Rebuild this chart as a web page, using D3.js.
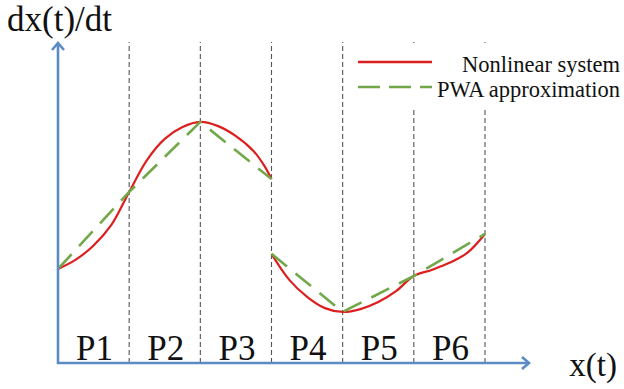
<!DOCTYPE html>
<html>
<head>
<meta charset="utf-8">
<script src="https://cdn.jsdelivr.net/npm/d3@7"></script>
<style>
  body { margin: 0; background: #fff; }
</style>
</head>
<body>
<script>
// data (x in partition units, y in arbitrary units)
var nonlinearX1 = [0, 0.25, 0.5, 0.75, 1, 1.25, 1.5, 1.75, 2, 2.25, 2.5, 2.75, 2.9, 3];
var nonlinearY1 = [2.93, 3.22, 3.66, 4.30, 5.33, 6.32, 6.98, 7.35, 7.51, 7.38, 7.07, 6.60, 6.14, 5.73];
var nonlinearX2 = [3, 3.25, 3.5, 3.75, 4, 4.25, 4.5, 4.75, 5, 5.25, 5.5, 5.75, 6];
var nonlinearY2 = [3.40, 2.59, 2.06, 1.71, 1.59, 1.68, 1.90, 2.24, 2.71, 2.90, 3.12, 3.43, 4.02];
var pwaX1 = [0, 1, 2, 3];
var pwaY1 = [2.93, 5.33, 7.51, 5.73];
var pwaX2 = [3, 4, 5, 6];
var pwaY2 = [3.40, 1.59, 2.71, 4.02];
var boundaries = [1, 2, 3, 4, 5, 6];
var regionLabels = ["P1", "P2", "P3", "P4", "P5", "P6"];
var legendLabels = ["Nonlinear system", "PWA approximation"];

var width = 624;
var height = 389;
var serif = "'Liberation Serif', 'Times New Roman', Times, serif";
var svg = d3.select("body").append("svg")
	.attr("width", width)
	.attr("height", height)
	.attr("font-family", serif);

var x = d3.scaleLinear().domain([0, 6]).range([58, 485]);
var y = d3.scaleLinear().domain([0, 10]).range([363, 42]);

var axisColor = "#5b8bc4";
var red = "#dc1f1f";
var green = "#72a84a";

// partition lines
svg.selectAll(".part").data(boundaries).enter().append("line")
	.attr("x1", d => x(d)).attr("x2", d => x(d))
	.attr("y1", y(0)).attr("y2", y(10))
	.attr("stroke", "#555")
	.attr("stroke-width", 1.1)
	.attr("stroke-dasharray", "5,3");

// region labels
svg.selectAll(".plab").data(regionLabels).enter().append("text")
	.attr("x", (d, i) => x(i + 0.5) + 1)
	.attr("y", 360)
	.attr("text-anchor", "middle")
	.attr("font-family", serif)
	.attr("font-size", 35)
	.attr("fill", "#111")
	.text(d => d);

var line = d3.line()
	.x(d => x(d[0]))
	.y(d => y(d[1]));
var smooth = d3.line()
	.x(d => x(d[0]))
	.y(d => y(d[1]))
	.curve(d3.curveCatmullRom.alpha(0.5));

[[nonlinearX1, nonlinearY1], [nonlinearX2, nonlinearY2]].forEach(function(s) {
	svg.append("path")
		.datum(s[0].map((v, i) => [v, s[1][i]]))
		.attr("d", smooth)
		.attr("fill", "none")
		.attr("stroke", red)
		.attr("stroke-width", 2.2);
});
[[pwaX1, pwaY1], [pwaX2, pwaY2]].forEach(function(s) {
	svg.append("path")
		.datum(s[0].map((v, i) => [v, s[1][i]]))
		.attr("d", line)
		.attr("fill", "none")
		.attr("stroke", green)
		.attr("stroke-width", 2.6)
		.attr("stroke-dasharray", "20,11");
});

// legend
var lg = svg.append("g");
lg.append("rect")
	.attr("x", 350).attr("y", 46)
	.attr("width", 274).attr("height", 62)
	.attr("fill", "#fff");
lg.append("line")
	.attr("x1", 358).attr("x2", 432).attr("y1", 62).attr("y2", 62)
	.attr("stroke", red).attr("stroke-width", 2.4);
lg.append("line")
	.attr("x1", 358).attr("x2", 432).attr("y1", 87).attr("y2", 87)
	.attr("stroke", green).attr("stroke-width", 2.6)
	.attr("stroke-dasharray", "22,9");
lg.append("text")
	.attr("x", 620).attr("y", 72)
	.attr("text-anchor", "end")
	.attr("font-family", serif)
	.attr("font-size", 22.5)
	.attr("fill", "#111")
	.text(legendLabels[0]);
lg.append("text")
	.attr("x", 620).attr("y", 97)
	.attr("text-anchor", "end")
	.attr("font-family", serif)
	.attr("font-size", 22.5)
	.attr("fill", "#111")
	.text(legendLabels[1]);

// axes with arrows
svg.append("line")
	.attr("x1", x(0)).attr("x2", x(0))
	.attr("y1", y(0) + 1).attr("y2", 43)
	.attr("stroke", axisColor).attr("stroke-width", 2.6);
svg.append("line")
	.attr("x1", x(0) - 1).attr("x2", 529)
	.attr("y1", y(0)).attr("y2", y(0))
	.attr("stroke", axisColor).attr("stroke-width", 2.6);
svg.append("path")
	.attr("d", "M" + (x(0) - 6) + ",50 L" + x(0) + ",43 L" + (x(0) + 6) + ",50")
	.attr("fill", "none").attr("stroke", axisColor).attr("stroke-width", 2.6);
svg.append("path")
	.attr("d", "M522," + (y(0) - 6) + " L529," + y(0) + " L522," + (y(0) + 6))
	.attr("fill", "none").attr("stroke", axisColor).attr("stroke-width", 2.6);

// axis titles
svg.append("text")
	.attr("x", 7).attr("y", 31)
	.attr("font-family", serif)
	.attr("font-size", 35)
	.attr("fill", "#111")
	.text("dx(t)/dt");
svg.append("text")
	.attr("x", 617).attr("y", 376)
	.attr("text-anchor", "end")
	.attr("font-family", serif)
	.attr("font-size", 33)
	.attr("fill", "#111")
	.text("x(t)");
</script>
</body>
</html>
